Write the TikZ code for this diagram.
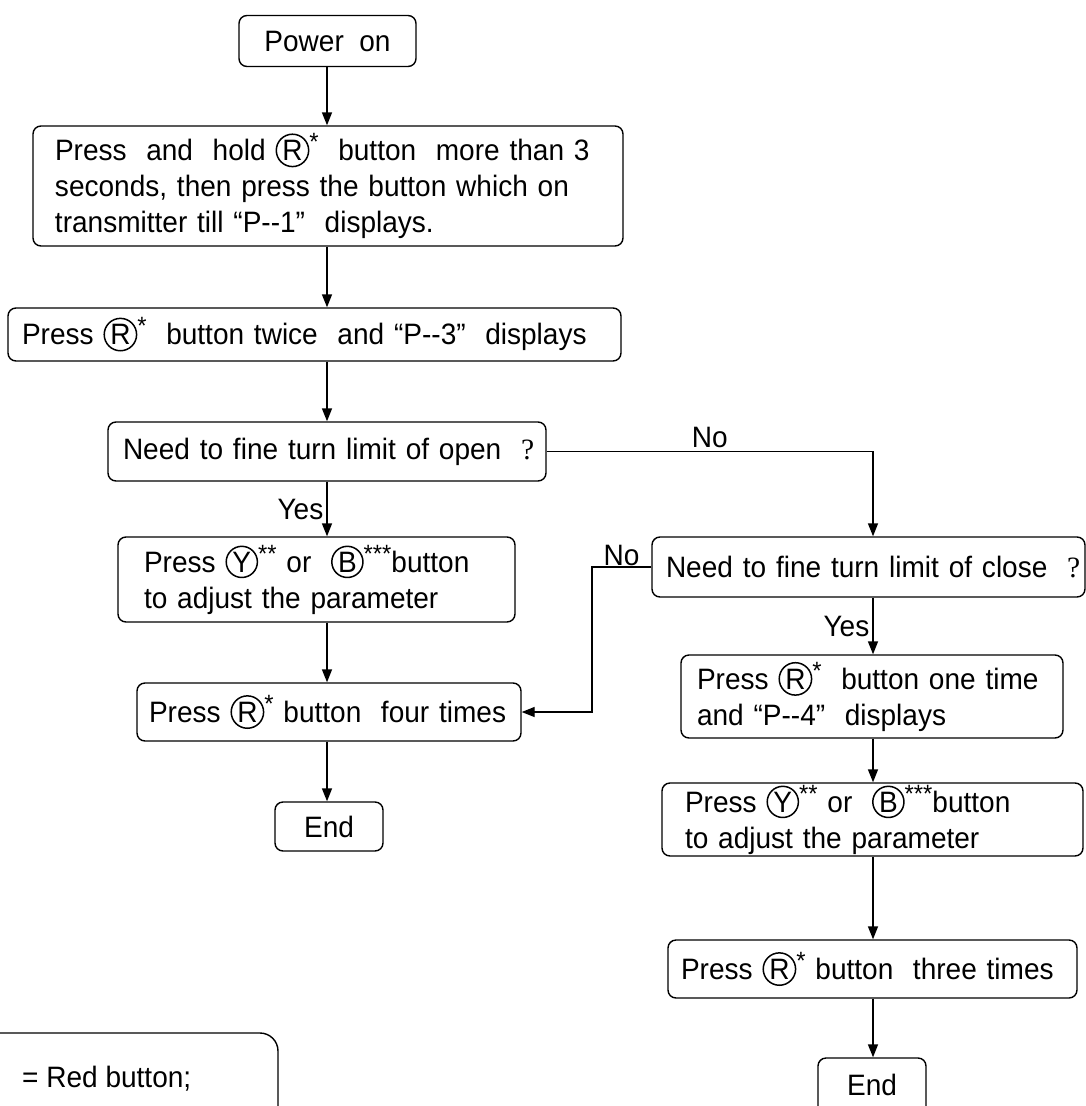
\documentclass[tikz,border=0pt]{standalone}
\usepackage{fontspec}
\setmainfont{Liberation Sans}[FakeStretch=0.95]
\usetikzlibrary{arrows.meta,calc}
\newcommand{\fsz}{\fontsize{29.5}{36}\selectfont}
\tikzset{
  cbnode/.style={anchor=base,circle,draw,line width=1.5pt,inner sep=1.3pt,minimum width=0pt,minimum height=0pt,text width={},align=center,rounded corners=0pt,font=\fontsize{29.5}{30}\selectfont},
  box/.style={draw,line width=1.4pt,rounded corners=8pt,inner sep=0pt,font=\fsz},
  lbl/.style={font=\fsz,inner sep=3pt},
  arr/.style={line width=1.4pt,-{Triangle[length=13pt,width=10pt]}},
  ln/.style={line width=1.4pt}
}
\newcommand{\cbtn}[2]{\tikz[baseline=0pt,x=1pt,y=1pt]\node[cbnode]{#1};\raisebox{10pt}{\fontsize{25}{25}\selectfont #2}}
\newcommand{\ml}[1]{\mbox{#1}}
\begin{document}
\begin{tikzpicture}[x=1pt,y=-1pt]
\clip (0,0) rectangle (1086,1106);
\fill[white] (0,0) rectangle (1086,1106);
\coordinate (colL) at (327,0);
\coordinate (colR) at (873,0);
\coordinate (nox) at (592,0);

\node[box,minimum width=177pt,minimum height=51pt] (pwr) at (327.5,41) {Power\ \ on};
\node[box,minimum width=590pt,minimum height=120pt,text width=546pt,align=left] (b2) at (328,186)
 {\ml{Press\ \ and\ \ hold \cbtn{R}{*}\ \ button\ \ more than 3}\\\ml{seconds, then press the button which on}\\\ml{transmitter till “P-{}-1”\ \ displays.}};
\node[box,minimum width=613pt,minimum height=53pt,text width=585pt,align=left] (b3) at (314.5,334.5)
 {\ml{Press \cbtn{R}{*}\ \ button twice\ \ and “P-{}-3”\ \ displays}};
\node[box,minimum width=438pt,minimum height=59pt,text width=408pt,align=left] (b4) at (327,451.5)
 {\ml{Need to fine turn limit of open\ \ {\fontspec{Liberation Serif}?}}};
\node[box,minimum width=397pt,minimum height=85pt,text width=345pt,align=left] (b5) at (316.5,579.5)
 {\ml{Press \cbtn{Y}{**} or\ \ \cbtn{B}{***}button}\\\ml{to adjust the parameter}};
\node[box,minimum width=384pt,minimum height=58pt,text width=360pt,align=left] (b6) at (329,712)
 {\ml{Press \cbtn{R}{*} button\ \ four times}};
\node[box,minimum width=108pt,minimum height=49pt] (endl) at (329,826.5) {End};

\node[box,minimum width=433pt,minimum height=60pt,text width=405pt,align=left] (b7) at (868.5,567)
 {\ml{Need to fine turn limit of close\ \ {\fontspec{Liberation Serif}?}}};
\node[box,minimum width=382pt,minimum height=83pt,text width=350pt,align=left] (b8) at (872,696.5)
 {\ml{Press \cbtn{R}{*}\ \ button one time}\\\ml{and “P-{}-4”\ \ displays}};
\node[box,minimum width=421pt,minimum height=73pt,text width=375pt,align=left] (b9) at (872.5,819.5)
 {\ml{Press \cbtn{Y}{**} or\ \ \cbtn{B}{***}button}\\\ml{to adjust the parameter}};
\node[box,minimum width=409pt,minimum height=58pt,text width=383pt,align=left] (b10) at (872.5,969)
 {\ml{Press \cbtn{R}{*} button\ \ three times}};
\node[box,minimum width=108pt,minimum height=62pt] (endr) at (872,1089) {};
\node[font=\fsz,anchor=base] (endrt) at (872,1095) {End};

\draw[ln,rounded corners=18pt] (-20,1033) -- (278,1033) -- (278,1140);
\node[font=\fsz,anchor=base west,inner sep=0pt] (legend) at (22,1087) {= Red button;};

\draw[arr] (pwr.south -| colL) -- (b2.north -| colL);
\draw[arr] (b2.south -| colL) -- (b3.north -| colL);
\draw[arr] (b3.south -| colL) -- (b4.north -| colL);
\draw[arr] (b4.south -| colL) -- node[lbl,left]{Yes} (b5.north -| colL);
\draw[arr] (b5.south -| colL) -- (b6.north -| colL);
\draw[arr] (b6.south -| colL) -- (endl.north -| colL);

\draw[arr] (b4.east) -- node[lbl,above]{No} (b4.east -| colR) -- (b7.north -| colR);
\draw[arr] (b7.west) -- node[lbl,above,inner sep=1pt]{No} (b7.west -| nox) -- (b6.east -| nox) -- (b6.east);
\draw[arr] (b7.south -| colR) -- node[lbl,left]{Yes} (b8.north -| colR);
\draw[arr] (b8.south -| colR) -- (b9.north -| colR);
\draw[arr] (b9.south -| colR) -- (b10.north -| colR);
\draw[arr] (b10.south -| colR) -- (endr.north -| colR);
\end{tikzpicture}
\end{document}
